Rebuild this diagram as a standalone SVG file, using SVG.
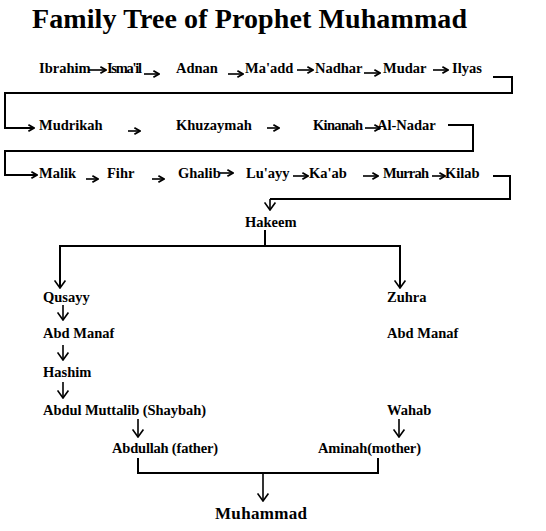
<svg xmlns="http://www.w3.org/2000/svg" width="546" height="531" viewBox="0 0 546 531">
<style>
text{font-family:"Liberation Serif","Times New Roman",serif;font-weight:bold;fill:#000}
.n{font-size:14.5px}
.t{font-size:28px}
.m{font-size:17px}
.c{fill:none;stroke:#000;stroke-width:2}
.a{fill:none;stroke:#000;stroke-width:1.6}
</style>
<defs>
<marker id="ah" viewBox="0 0 10 10" refX="9" refY="5" markerWidth="8" markerHeight="8" orient="auto" markerUnits="userSpaceOnUse"><path d="M2,1 L9,5 L2,9" fill="none" stroke="#000" stroke-width="2.2"/></marker>
<marker id="av" viewBox="0 0 12 10" refX="6" refY="9" markerWidth="13" markerHeight="11" orient="0" markerUnits="userSpaceOnUse"><path d="M1,2 L6,9 L11,2" fill="none" stroke="#000" stroke-width="1.5"/></marker>
</defs>
<rect width="546" height="531" fill="#fff"/>
<text id="title" class="t" x="32" y="28" textLength="435">Family Tree of Prophet Muhammad</text>
<g id="connectors">
<path class="a" marker-end="url(#ah)" d="M89,70 H106"/>
<path class="a" marker-end="url(#ah)" d="M144,74 H159"/>
<path class="a" marker-end="url(#ah)" d="M228,74 H243"/>
<path class="a" marker-end="url(#ah)" d="M297,70 H313"/>
<path class="a" marker-end="url(#ah)" d="M364,73 H380"/>
<path class="a" marker-end="url(#ah)" d="M433,70 H448"/>
<path class="c" marker-end="url(#ah)" d="M493,77 H512 V93 H5 V128 H34"/>
<path class="a" marker-end="url(#ah)" d="M128,131 H140"/>
<path class="a" marker-end="url(#ah)" d="M267,128 H279"/>
<path class="a" marker-end="url(#ah)" d="M365,128 H380"/>
<path class="c" marker-end="url(#ah)" d="M448,125 H473 V151 H5 V175 H37"/>
<path class="a" marker-end="url(#ah)" d="M86,179 H98"/>
<path class="a" marker-end="url(#ah)" d="M152,179 H164"/>
<path class="a" marker-end="url(#ah)" d="M220,173 H233"/>
<path class="a" marker-end="url(#ah)" d="M293,176 H308"/>
<path class="a" marker-end="url(#ah)" d="M363,176 H378"/>
<path class="a" marker-end="url(#ah)" d="M432,176 H445"/>
<path class="c" d="M493,176 H510 V199 H270"/>
<path class="a" marker-end="url(#av)" d="M270,199 V210"/>
<path class="c" d="M265,230 V246"/>
<path class="c" d="M60,287 V246 H400 V287"/>
<path class="a" marker-end="url(#av)" d="M60,280 V288"/>
<path class="a" marker-end="url(#av)" d="M400,280 V288"/>
<path class="a" marker-end="url(#av)" d="M63,305 V320"/>
<path class="a" marker-end="url(#av)" d="M63,345 V360"/>
<path class="a" marker-end="url(#av)" d="M63,382 V398"/>
<path class="a" marker-end="url(#av)" d="M138,419 V437"/>
<path class="a" marker-end="url(#av)" d="M399,419 V437"/>
<path class="c" d="M138,458 V473 H378 V458"/>
<path class="a" marker-end="url(#av)" d="M263,473 V501"/>
</g>
<g id="ibrahim"><text class="n" x="39" y="73">Ibrahim</text></g>
<g id="ismail"><text class="n" x="107" y="73" textLength="35">Isma'il</text></g>
<g id="adnan"><text class="n" x="176" y="73">Adnan</text></g>
<g id="maadd"><text class="n" x="245" y="73">Ma'add</text></g>
<g id="nadhar"><text class="n" x="315" y="73">Nadhar</text></g>
<g id="mudar"><text class="n" x="383" y="73">Mudar</text></g>
<g id="ilyas"><text class="n" x="452" y="73">Ilyas</text></g>
<g id="mudrikah"><text class="n" x="39" y="130">Mudrikah</text></g>
<g id="khuzaymah"><text class="n" x="176" y="130">Khuzaymah</text></g>
<g id="kinanah"><text class="n" x="313" y="130" textLength="50">Kinanah</text></g>
<g id="alnadar"><text class="n" x="377" y="130">Al-Nadar</text></g>
<g id="malik"><text class="n" x="39" y="178">Malik</text></g>
<g id="fihr"><text class="n" x="107" y="178">Fihr</text></g>
<g id="ghalib"><text class="n" x="178" y="178">Ghalib</text></g>
<g id="luayy"><text class="n" x="246" y="178">Lu'ayy</text></g>
<g id="kaab"><text class="n" x="309" y="178">Ka'ab</text></g>
<g id="murrah"><text class="n" x="383" y="178" textLength="46">Murrah</text></g>
<g id="kilab"><text class="n" x="445" y="178">Kilab</text></g>
<g id="hakeem"><text class="n" x="245" y="227">Hakeem</text></g>
<g id="qusayy"><text class="n" x="43" y="302">Qusayy</text></g>
<g id="zuhra"><text class="n" x="387" y="302">Zuhra</text></g>
<g id="abdmanaf1"><text class="n" x="43" y="338">Abd Manaf</text></g>
<g id="abdmanaf2"><text class="n" x="387" y="338">Abd Manaf</text></g>
<g id="hashim"><text class="n" x="43" y="377">Hashim</text></g>
<g id="abdulmuttalib"><text class="n" x="43" y="415" textLength="163">Abdul Muttalib (Shaybah)</text></g>
<g id="wahab"><text class="n" x="387" y="415">Wahab</text></g>
<g id="abdullah"><text class="n" x="112" y="453" textLength="106">Abdullah (father)</text></g>
<g id="aminah"><text class="n" x="318" y="453" textLength="103">Aminah(mother)</text></g>
<g id="muhammad"><text class="m" x="215" y="519" textLength="92">Muhammad</text></g>
</svg>
